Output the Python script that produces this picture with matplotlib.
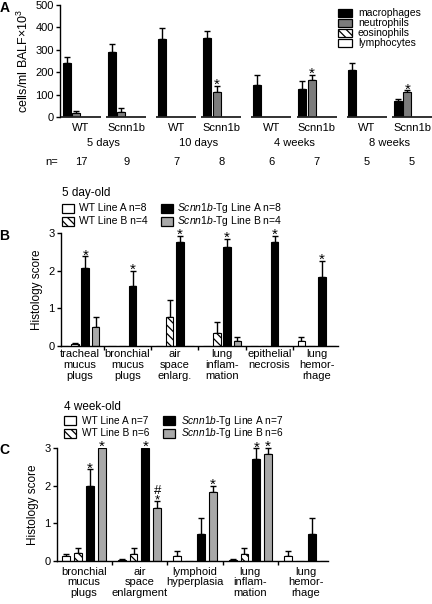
import numpy as np
import matplotlib
matplotlib.use("Agg")
import matplotlib.pyplot as plt
from matplotlib.patches import Rectangle
from matplotlib.transforms import blended_transform_factory

plt.rcParams['font.family'] = ['Liberation Sans', 'DejaVu Sans']
plt.rcParams['mathtext.fontset'] = 'custom'
plt.rcParams['mathtext.rm'] = 'Liberation Sans'
plt.rcParams['mathtext.it'] = 'Liberation Sans:italic'
plt.rcParams['hatch.linewidth'] = 0.9
plt.rcParams['axes.linewidth'] = 1.0

# ---------------- Panel A data ----------------
a_groups = ["WT", "Scnn1b", "WT", "Scnn1b", "WT", "Scnn1b", "WT", "Scnn1b"]
a_times = ["5 days", "10 days", "4 weeks", "8 weeks"]
a_n = [17, 9, 7, 8, 6, 7, 5, 5]
a_cells = ["macrophages", "neutrophils", "eosinophils", "lymphocytes"]
a_macro = [243, 292, 347, 352, 144, 125, 211, 72]
a_macro_err = [24, 33, 49, 32, 43, 35, 29, 9]
a_neut = [18, 22, 2, 111, 3, 166, 2, 112]
a_neut_err = [11, 18, 0, 28, 0, 22, 0, 8]
a_eos = [2, 2, 2, 2, 0, 0, 0, 0]
a_lymph = [2, 1, 0, 2, 0, 1, 1, 1]
a_star_neut = [False, False, False, True, False, True, False, True]

# ---------------- Panel B data (5 day-old) ----------------
b_cats = ["tracheal\nmucus\nplugs", "bronchial\nmucus\nplugs", "air\nspace\nenlarg.",
          "lung\ninflam-\nmation", "epithelial\nnecrosis", "lung\nhemor-\nrhage"]
b_series = ["WT Line A n=8", "WT Line B n=4",
            r"$\it{Scnn1b}$-Tg Line A n=8", r"$\it{Scnn1b}$-Tg Line B n=4"]
b_wtA = [0, 0, 0, 0, 0, 0.12]
b_wtA_err = [0, 0, 0, 0, 0, 0.13]
b_wtB = [0.05, 0, 0.76, 0.34, 0, 0]
b_wtB_err = [0.04, 0, 0.47, 0.31, 0, 0]
b_tgA = [2.08, 1.59, 2.77, 2.63, 2.77, 1.83]
b_tgA_err = [0.30, 0.40, 0.16, 0.21, 0.16, 0.43]
b_tgB = [0.50, 0, 0, 0.12, 0, 0]
b_tgB_err = [0.28, 0, 0, 0.13, 0, 0]
b_star_tgA = [True, True, True, True, True, True]

# ---------------- Panel C data (4 week-old) ----------------
c_cats = ["bronchial\nmucus\nplugs", "air\nspace\nenlargment", "lymphoid\nhyperplasia",
          "lung\ninflam-\nmation", "lung\nhemor-\nrhage"]
c_series = ["WT Line A n=7", "WT Line B n=6",
            r"$\it{Scnn1b}$-Tg Line A n=7", r"$\it{Scnn1b}$-Tg Line B n=6"]
c_wtA = [0.12, 0.03, 0.14, 0.03, 0.14]
c_wtA_err = [0.07, 0.01, 0.13, 0.01, 0.13]
c_wtB = [0.20, 0.18, 0, 0.18, 0]
c_wtB_err = [0.15, 0.16, 0, 0.16, 0]
c_tgA = [2.0, 3.0, 0.72, 2.71, 0.72]
c_tgA_err = [0.43, 0, 0.41, 0.28, 0.41]
c_tgB = [3.0, 1.41, 1.83, 2.83, 0]
c_tgB_err = [0, 0.19, 0.16, 0.17, 0]
c_star_tgA = [True, True, False, True, False]
c_star_tgB = [True, True, True, True, False]
c_hash_tgB = [False, True, False, False, False]

W, H = 432, 604
fig = plt.figure(figsize=(W / 100, H / 100), dpi=100)


def rect(l, r, t, b):
    return [l / W, 1 - b / H, (r - l) / W, (b - t) / H]


def fx(px):
    return px / W


def fy(py):
    return 1 - py / H


FS = 8
BLACK = "black"
GRAY_A = "#7c7c7c"
GRAY_B = "#a8a8a8"
HATCH = "\\\\\\\\"
STAR = 11


def style_axis(ax):
    for s in ["top", "right"]:
        ax.spines[s].set_visible(False)
    ax.tick_params(axis="y", direction="out", length=3, width=1, labelsize=FS, pad=1.5)


def add_errors(ax, x, y, e):
    x = np.asarray(x, float)
    y = np.asarray(y, float)
    e = np.asarray(e, float)
    m = e > 0
    ax.errorbar(x[m], y[m], yerr=[np.zeros(m.sum()), e[m]], fmt="none",
                ecolor="black", elinewidth=1.0, capsize=2.2, capthick=1.0,
                zorder=1, clip_on=False)


def add_mark(ax, x, ytop, s="*", dy=-3, size=STAR, va="baseline"):
    ax.annotate(s, xy=(x, ytop), xytext=(0, dy), textcoords="offset pixels",
                ha="center", va=va, fontsize=size, annotation_clip=False,
                linespacing=0.75)


def legend_swatch(px, py, text, face, hatch=None, w=13, h=9, tx=None, fs=7.5):
    fig.add_artist(Rectangle((fx(px), fy(py + h / 2)), w / W, h / H,
                             transform=fig.transFigure, facecolor=face,
                             edgecolor="black", hatch=hatch, lw=0.9))
    fig.text(fx(tx if tx is not None else px + w + 4), fy(py), text,
             fontsize=fs, ha="left", va="center")


# ================= Panel A =================
axA = fig.add_axes(rect(60, 432, 5, 117.3))
style_axis(axA)
axA.spines["bottom"].set_visible(False)
pair_sp, within_sp = 2.0, 0.95
gx = np.array([(i // 2) * pair_sp + (i % 2) * within_sp for i in range(len(a_groups))])
bstep, bw = 0.2, 0.168
offs = (np.arange(4) - 1.5) * bstep
a_vals = [a_macro, a_neut, a_eos, a_lymph]
a_face = [BLACK, GRAY_A, "white", "white"]
a_hatch = [None, None, HATCH, None]
for k in range(4):
    axA.bar(gx + offs[k], a_vals[k], width=bw, color=a_face[k], edgecolor="black",
            hatch=a_hatch[k], lw=0.8, zorder=2)
add_errors(axA, gx + offs[0], a_macro, a_macro_err)
add_errors(axA, gx + offs[1], a_neut, a_neut_err)
for i in range(len(gx)):
    if a_star_neut[i]:
        add_mark(axA, gx[i] + offs[1], a_neut[i] + a_neut_err[i])
axA.hlines(np.zeros(len(gx)), gx - 0.42, gx + 0.42, colors="#222222", lw=1.3,
           clip_on=False, zorder=3)
axA.set_xlim(-0.44, 7.37)
axA.set_ylim(0, 500)
axA.set_yticks(np.arange(0, 501, 100))
axA.set_xticks([])
axA.set_ylabel("cells/ml BALF×10$^{3}$", fontsize=9, labelpad=3)
trA = blended_transform_factory(axA.transData, axA.transAxes)
for i, g in enumerate(a_groups):
    axA.annotate(g, xy=(gx[i], 0), xycoords=trA, xytext=(0, -10.5),
                 textcoords="offset pixels", ha="center", va="center", fontsize=FS,
                 annotation_clip=False)
    axA.annotate(str(a_n[i]), xy=(gx[i], 0), xycoords=trA, xytext=(0, -44.5),
                 textcoords="offset pixels", ha="center", va="center", fontsize=FS,
                 annotation_clip=False)
for p, t in enumerate(a_times):
    axA.annotate(t, xy=(p * pair_sp + within_sp / 2, 0), xycoords=trA, xytext=(0, -25.5),
                 textcoords="offset pixels", ha="center", va="center", fontsize=FS,
                 annotation_clip=False)
fig.text(fx(52), fy(162), "n=", fontsize=FS, ha="center", va="center")
for k, name in enumerate(a_cells):
    legend_swatch(338, 13 + k * 10.1, name, a_face[k], a_hatch[k], w=14, h=8, tx=358, fs=7.5)
fig.text(fx(5), fy(8), "A", fontsize=10, fontweight="bold", ha="center", va="center")


# ================= Panels B and C =================
def histo_panel(box, cats, series_vals, series_err, step, width, xlim, label_pad):
    ax = fig.add_axes(rect(*box))
    style_axis(ax)
    x = np.arange(len(cats))
    offs = (np.arange(4) - 1.5) * step
    faces = ["white", "white", BLACK, GRAY_B]
    hatches = [None, HATCH, None, None]
    for k in range(4):
        ax.bar(x + offs[k], series_vals[k], width=width, color=faces[k],
               edgecolor="black", hatch=hatches[k], lw=0.8, zorder=2)
        add_errors(ax, x + offs[k], series_vals[k], series_err[k])
    ax.set_xlim(*xlim)
    ax.set_ylim(0, 3)
    ax.set_yticks([0, 1, 2, 3])
    ax.set_xticks(x)
    ax.set_xticklabels(cats, fontsize=FS, linespacing=1.1)
    ax.tick_params(axis="x", which="major", length=0, pad=label_pad)
    ax.set_xticks(np.arange(len(cats) - 1) + 0.5, minor=True)
    ax.tick_params(axis="x", which="minor", direction="out", length=3, width=1)
    ax.set_ylabel("Histology score", fontsize=8.5, labelpad=4)
    return ax, x, offs, faces, hatches


# Panel B
axB, xb, offb, faces, hatches = histo_panel(
    (60.7, 338, 233, 346), b_cats, [b_wtA, b_wtB, b_tgA, b_tgB],
    [b_wtA_err, b_wtB_err, b_tgA_err, b_tgB_err], 0.217, 0.158, (-0.41, 5.45), 2.5)
for i in range(len(b_cats)):
    if b_star_tgA[i]:
        add_mark(axB, xb[i] + offb[2], b_tgA[i] + b_tgA_err[i])
fig.text(fx(62), fy(193), "5 day-old", fontsize=8.5, ha="left", va="center")
for k, (px, py, tx) in enumerate([(62, 208, 79), (62, 221, 79), (161, 208, 177), (161, 221, 177)]):
    legend_swatch(px, py, b_series[k], faces[k], hatches[k], w=12, h=9, tx=tx, fs=7.5)
fig.text(fx(4), fy(236), "B", fontsize=10, fontweight="bold", ha="center", va="center")

# Panel C
axC, xc, offc, faces, hatches = histo_panel(
    (57, 328, 448, 561), c_cats, [c_wtA, c_wtB, c_tgA, c_tgB],
    [c_wtA_err, c_wtB_err, c_tgA_err, c_tgB_err], 0.213, 0.14, (-0.487, 4.40), 4)
for i in range(len(c_cats)):
    if c_star_tgA[i]:
        add_mark(axC, xc[i] + offc[2], c_tgA[i] + c_tgA_err[i])
    if c_hash_tgB[i]:
        add_mark(axC, xc[i] + offc[3], c_tgB[i] + c_tgB_err[i], s="#\n*", dy=-6,
                 size=9.5, va="bottom")
    elif c_star_tgB[i]:
        add_mark(axC, xc[i] + offc[3], c_tgB[i] + c_tgB_err[i])
fig.text(fx(64), fy(407), "4 week-old", fontsize=8.5, ha="left", va="center")
for k, (px, py, tx) in enumerate([(64, 420.5, 82), (64, 433.5, 82), (163, 420.5, 181), (163, 433.5, 181)]):
    legend_swatch(px, py, c_series[k], faces[k], hatches[k], w=12, h=9, tx=tx, fs=7.3)
fig.text(fx(4), fy(450), "C", fontsize=10, fontweight="bold", ha="center", va="center")

fig.savefig("out.png", dpi=100)
